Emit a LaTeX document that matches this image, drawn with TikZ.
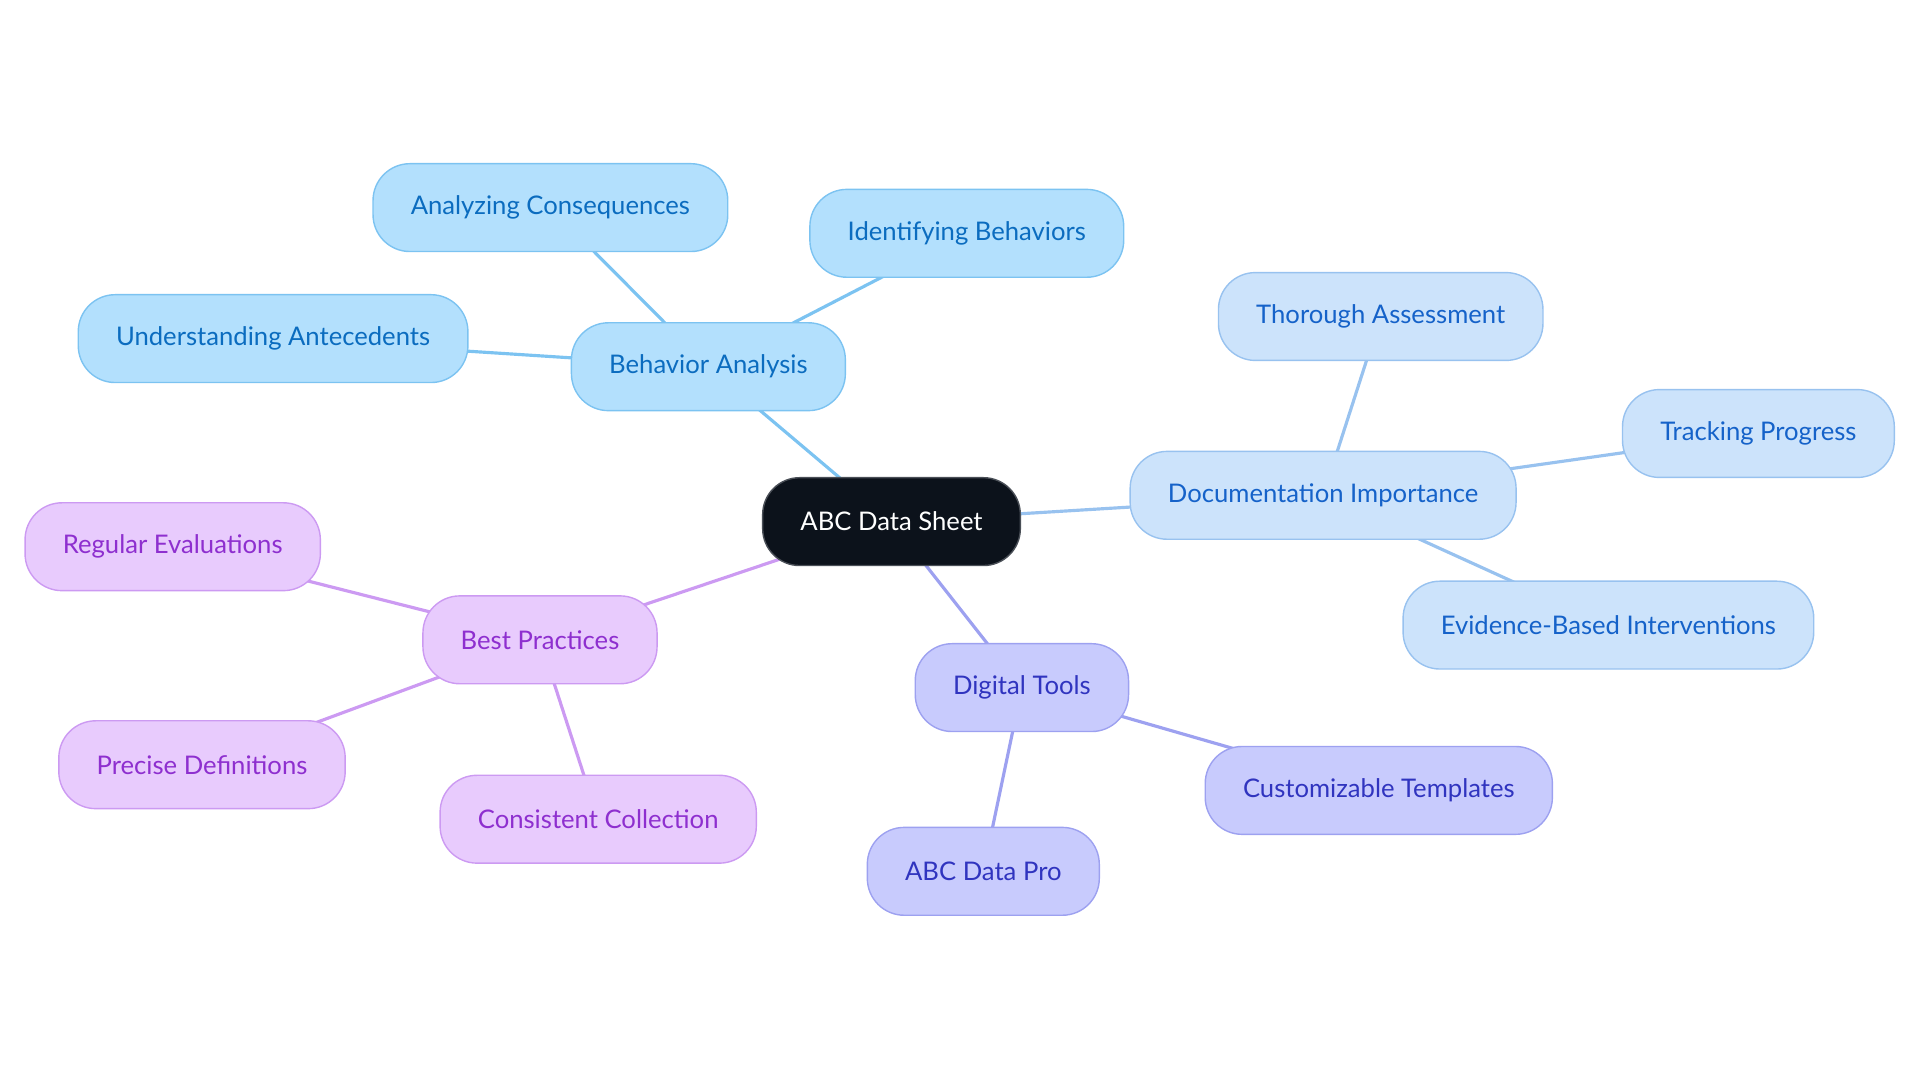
\documentclass[tikz,border=0pt]{standalone}
\usepackage{fontspec}
\setmainfont{Lato}
\definecolor{rootFill}{HTML}{0C121B}
\definecolor{rootLine}{HTML}{4A4F57}
\definecolor{behFill}{HTML}{B3E0FD}
\definecolor{behLine}{HTML}{7CC3F1}
\definecolor{behText}{HTML}{0B6CBF}
\definecolor{docFill}{HTML}{CCE3FB}
\definecolor{docLine}{HTML}{98C2EF}
\definecolor{docText}{HTML}{1562C9}
\definecolor{bestFill}{HTML}{E8CBFD}
\definecolor{bestLine}{HTML}{CC9AF2}
\definecolor{bestText}{HTML}{8E2FCF}
\definecolor{toolFill}{HTML}{C8CBFD}
\definecolor{toolLine}{HTML}{9DA1F0}
\definecolor{toolText}{HTML}{3034BF}
\usetikzlibrary{positioning,backgrounds}

\begin{document}
\begin{tikzpicture}[x=0.02cm,y=-0.02cm,
    pill/.style={rounded corners=21pt, minimum height=50pt, inner xsep=21.5pt, line width=0.8pt, font=\fontsize{14.6}{17}\selectfont},
    root/.style={pill, fill=rootFill, draw=rootLine, text=white},
    beh/.style={pill, fill=behFill, draw=behLine, text=behText},
    doc/.style={pill, fill=docFill, draw=docLine, text=docText},
    best/.style={pill, fill=bestFill, draw=bestLine, text=bestText},
    tool/.style={pill, fill=toolFill, draw=toolLine, text=toolText},
    link/.style={line width=1.8pt}]
    \useasboundingbox (0,0) rectangle (1920,1083);

    % Centre
    \node[root] (abc) at (891.5,521.6) {ABC Data Sheet};

    % Behavior analysis branch (top)
    \node[beh] (behav) at (708.4,366.7) {Behavior Analysis};
    \node[beh] (conseq) at (550.4,207.6) {Analyzing Consequences};
    \node[beh] (identify) at (966.8,233.3) {Identifying Behaviors};
    \node[beh] (antec) at (273.1,338.6) {Understanding Antecedents};

    % Documentation branch (right)
    \node[doc] (docu) at (1323.1,495.3) {Documentation Importance};
    \node[doc] (thorough) at (1380.7,316.5) {Thorough Assessment};
    \node[doc] (tracking) at (1758.4,433.5) {Tracking Progress};
    \node[doc] (evidence) at (1608.4,625.1) {Evidence-Based Interventions};

    % Best practices branch (left)
    \node[best] (practice) at (540,639.8) {Best Practices};
    \node[best] (regular) at (172.7,546.7) {Regular Evaluations};
    \node[best] (precise) at (202,764.7) {Precise Definitions};
    \node[best] (consistent) at (598.2,819.2) {Consistent Collection};

    % Digital tools branch (bottom)
    \node[tool] (digital) at (1021.9,687.6) {Digital Tools};
    \node[tool] (templates) at (1378.8,790.4) {Customizable Templates};
    \node[tool] (pro) at (983.3,871.3) {ABC Data Pro};

    % Connectors behind the nodes
    \begin{scope}[on background layer]
        \draw[link, behLine] (abc.center) -- (behav.center);
        \foreach \n in {conseq,identify,antec}
            \draw[link, behLine] (behav.center) -- (\n.center);
        \draw[link, docLine] (abc.center) -- (docu.center);
        \foreach \n in {thorough,tracking,evidence}
            \draw[link, docLine] (docu.center) -- (\n.center);
        \draw[link, bestLine] (abc.center) -- (practice.center);
        \foreach \n in {regular,precise,consistent}
            \draw[link, bestLine] (practice.center) -- (\n.center);
        \draw[link, toolLine] (abc.center) -- (digital.center);
        \foreach \n in {templates,pro}
            \draw[link, toolLine] (digital.center) -- (\n.center);
    \end{scope}
\end{tikzpicture}
\end{document}
